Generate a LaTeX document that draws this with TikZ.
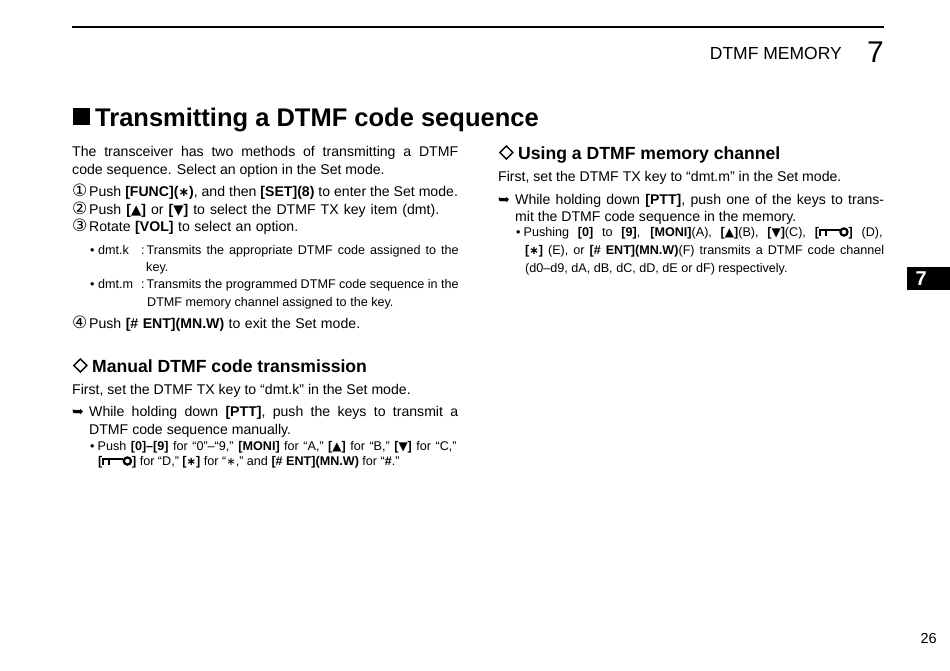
\documentclass[tikz,border=0pt]{standalone}
\usepackage{fontspec}
\setmainfont{Liberation Sans}
\newfontfamily\symfont{DejaVu Sans}

\newcommand{\UP}{{\symfont\scalebox{.95}{▲}}}
\newcommand{\DN}{{\symfont\scalebox{.95}{▼}}}
\newcommand{\AST}{{\symfont\scalebox{.9}{∗}}}
\newcommand{\CIR}[1]{\makebox[17pt][l]{\symfont\fontsize{17}{17}\selectfont\raisebox{-.8pt}{#1}}}
\newcommand{\KEYICON}{\tikz[baseline=0pt,line width=1.8pt]{%
    \draw (.9pt,0) -- (.9pt,6pt) -- (21pt,6pt) (7pt,0) -- (7pt,6pt);
    \draw[line width=2.2pt] (25pt,4pt) circle (3.6pt);}}
\newcommand{\DIAMOND}{\tikz[baseline=0pt]{%
    \draw[line width=1.3pt] (0,6.5pt) -- (6.5pt,13pt) -- (13pt,6.5pt) -- (6.5pt,0) -- cycle;}}
\newcommand{\FIT}[2]{\makebox[#1][s]{#2}}

\begin{document}
\begin{tikzpicture}[
    x=1pt,y=-1pt,
    body/.style={anchor=base west,inner sep=0pt,font=\fontsize{14.1}{16}\selectfont},
    small/.style={anchor=base west,inner sep=0pt,font=\fontsize{12.6}{14}\selectfont},
    head/.style={anchor=base west,inner sep=0pt,font=\fontsize{17.6}{20}\selectfont\bfseries},
]
\useasboundingbox (0,0) rectangle (950,670);

\def\LC{72}     %left column
\def\RC{498}    %right column

% page header
\draw[line width=2pt] (72,27) -- (884,27);
\node[anchor=base east,inner sep=0pt,font=\fontsize{17.5}{20}\selectfont] (running) at (842,59) {DTMF MEMORY};
\node[anchor=base east,inner sep=0pt,font=\fontsize{30}{32}\selectfont] (chapter) at (884,62) {7};
\node[anchor=base west,inner sep=0pt,font=\fontsize{25.5}{30}\selectfont\bfseries] (title) at (\LC,126) {\makebox[23pt][l]{\hspace{1pt}\rule[1pt]{17pt}{17pt}}Transmitting a DTMF code sequence};

% left column
\node[body] (intro1) at (\LC,156) {\FIT{386pt}{The transceiver has two methods of transmitting a DTMF}};
\node[body] (intro2) at (\LC,174) {code sequence. Select an option in the Set mode.};
\node[body] (step1) at (\LC,196) {\CIR{①}Push \textbf{[FUNC](\AST)}, and then \textbf{[SET](8)} to enter the Set mode.};
\node[body] (step2) at (\LC,214) {\CIR{②}\FIT{350pt}{Push \textbf{[\UP]} or \textbf{[\DN]} to select the DTMF TX key item (dmt).}};
\node[body] (step3) at (\LC,231) {\CIR{③}\FIT{209pt}{Rotate \textbf{[VOL]} to select an option.}};
\node[small] (optk) at (90,254) {• dmt.k};
\node[small] (optka) at (141,254) {:\hspace{2pt}\FIT{312pt}{Transmits the appropriate DTMF code assigned to the}};
\node[small] (optkb) at (146,271) {key.};
\node[small] (optm) at (90,288.5) {• dmt.m};
\node[small] (optma) at (141,288.5) {:\hspace{2pt}\FIT{312pt}{Transmits the programmed DTMF code sequence in the}};
\node[small] (optmb) at (147,306) {DTMF memory channel assigned to the key.};
\node[body] (step4) at (\LC,328) {\CIR{④}\FIT{271pt}{Push \textbf{[\# ENT](MN.W)} to exit the Set mode.}};

\node[head] (manual) at (\LC,372) {\makebox[20pt][l]{\hspace{1pt}\DIAMOND}Manual DTMF code transmission};
\node[body] (manual1) at (\LC,394) {First, set the DTMF TX key to “dmt.k” in the Set mode.};
\node[body] (manual2) at (\LC,416) {\makebox[17pt][l]{\symfont ➥}\FIT{369pt}{While holding down \textbf{[PTT]}, push the keys to transmit a}};
\node[body] (manual3) at (89,434) {DTMF code sequence manually.};
\node[small] (manual4) at (90,450) {•\hspace{3pt}\FIT{359pt}{Push \textbf{[0]–[9]} for “0”–“9,” \textbf{[MONI]} for “A,” \textbf{[\UP]} for “B,” \textbf{[\DN]} for “C,”}};
\node[small] (manual5) at (98,465) {\textbf{[}\KEYICON\textbf{]} for “D,” \textbf{[\AST]} for “\AST,” and \textbf{[\# ENT](MN.W)} for “\textbf{\#}.”};

% right column
\node[head] (memory) at (\RC,159) {\makebox[20pt][l]{\hspace{1pt}\DIAMOND}Using a DTMF memory channel};
\node[body] (memory1) at (\RC,181) {First, set the DTMF TX key to “dmt.m” in the Set mode.};
\node[body] (memory2) at (\RC,204) {\makebox[17pt][l]{\symfont ➥}\FIT{369pt}{While holding down \textbf{[PTT]}, push one of the keys to trans-}};
\node[body] (memory3) at (515,221) {mit the DTMF code sequence in the memory.};
\node[small] (memory4) at (516,236) {•\hspace{3pt}\FIT{359pt}{Pushing \textbf{[0]} to \textbf{[9]}, \textbf{[MONI]}(A), \textbf{[\UP]}(B), \textbf{[\DN]}(C), \textbf{[}\KEYICON\textbf{]} (D),}};
\node[small] (memory5) at (525,254) {\FIT{359pt}{\textbf{[\AST]} (E), or \textbf{[\# ENT](MN.W)}(F) transmits a DTMF code channel}};
\node[small] (memory6) at (525,272) {(d0–d9, dA, dB, dC, dD, dE or dF) respectively.};

% thumb tab and page number
\node[anchor=north west,fill=black,inner sep=0pt,minimum width=43pt,minimum height=23pt,text=white,font=\fontsize{20}{20}\selectfont\bfseries] (tab) at (907,267) {\makebox[43pt][l]{\hspace{8.5pt}7}};
\node[anchor=base east,inner sep=0pt,font=\fontsize{14.5}{16}\selectfont] (pageno) at (937,643) {26};
\end{tikzpicture}
\end{document}
